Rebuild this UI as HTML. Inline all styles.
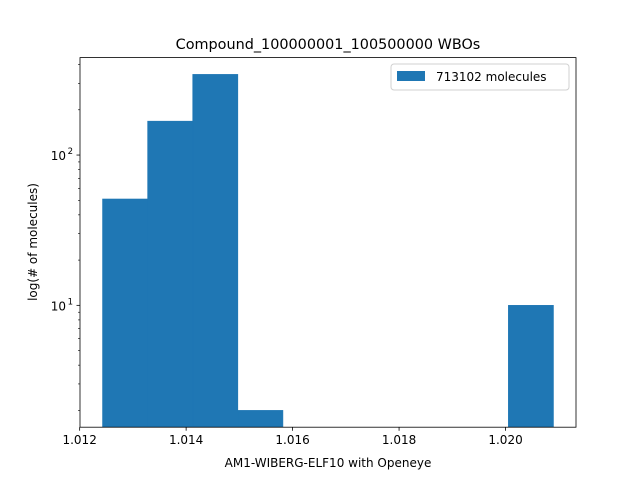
<!DOCTYPE html>
<html><head><meta charset="utf-8"><style>
body{margin:0;background:#fff;font-family:"Liberation Sans","DejaVu Sans",sans-serif}
svg text{font-family:"DejaVu Sans","Liberation Sans",sans-serif;fill:#000}
</style></head><body>
<svg id="c" width="640" height="480" xmlns="http://www.w3.org/2000/svg">
<rect width="640" height="480" fill="#fff"/>
<text x="328" y="49" font-size="14.4" text-anchor="middle">Compound_100000001_100500000 WBOs</text>
<g id="bars"></g>
<g id="axes"></g>
<text x="328" y="467" font-size="12" text-anchor="middle">AM1-WIBERG-ELF10 with Openeye</text>
<text transform="translate(37,242) rotate(-90)" font-size="12" text-anchor="middle">log(# of molecules)</text>
<g>
<rect x="391" y="64" width="178" height="26" rx="3" fill="#fff" stroke="#ccc" opacity="0.9"/>
<rect x="397" y="71" width="28" height="10" fill="#1f77b4"/>
<text x="436" y="81" font-size="12">713102 molecules</text>
</g>
</svg>
<script>
const binStart = 1.01243;
const binEnd = 1.02090;
const counts = [51, 168, 344, 2, 0, 0, 0, 0, 0, 10];
const xTicks = [1.012, 1.014, 1.016, 1.018, 1.020];
const xTickLabels = ["1.012", "1.014", "1.016", "1.018", "1.020"];
const yTicks = [1, 2];
const yTickLabels = ["10", "10"];

const NS="http://www.w3.org/2000/svg";
const L=80,R=576,T=57.6,B=427.2;
const span=binEnd-binStart;
const xmin=binStart-0.05*span,xmax=binEnd+0.05*span;
const X=v=>L+(v-xmin)/(xmax-xmin)*(R-L);
const pos=counts.filter(c=>c>0);
const lmin=Math.log10(Math.min(...pos)),lmax=Math.log10(Math.max(...pos));
const ylo=lmin-0.05*(lmax-lmin),yhi=lmax+0.05*(lmax-lmin);
const Y=v=>B-(Math.log10(v)-ylo)/(yhi-ylo)*(B-T);
function mk(t,a,p){const e=document.createElementNS(NS,t);for(const k in a)e.setAttribute(k,a[k]);p.appendChild(e);return e;}
const bars=document.getElementById('bars'),axes=document.getElementById('axes');
const w=span/counts.length;
counts.forEach((c,i)=>{
  if(c<=0)return;
  const x0=X(binStart+i*w),x1=X(binStart+(i+1)*w),yt=Y(c);
  const r=mk('rect',{x:x0,y:yt,width:x1-x0,height:B-yt,fill:'#1f77b4',stroke:'#1f77b4','stroke-width':0.6},bars);
  
  
});
xTicks.forEach((t,i)=>{
  const x=X(t);
  mk('line',{x1:x,x2:x,y1:B,y2:B+3.5,stroke:'#000','stroke-width':0.8},axes);
  const tx=mk('text',{x:x,y:B+17,'font-size':12,'text-anchor':'middle'},axes);
  tx.textContent=xTickLabels[i];
  
  
});
for(let d=Math.floor(ylo);d<=Math.ceil(yhi);d++){
  for(let m=1;m<10;m++){
    const v=m*Math.pow(10,d),lv=Math.log10(v);
    if(lv<ylo||lv>yhi||m===1)continue;
    const y=Y(v);
    mk('line',{x1:L,x2:L-2,y1:y,y2:y,stroke:'#000','stroke-width':0.6},axes);
  }
}
yTicks.forEach((e,i)=>{
  const y=Y(Math.pow(10,e));
  mk('line',{x1:L,x2:L-3.5,y1:y,y2:y,stroke:'#000','stroke-width':0.8},axes);
  const tx=mk('text',{x:L-14,y:y+5,'font-size':12,'text-anchor':'end'},axes);
  tx.textContent=yTickLabels[i];
  
  
  const sp=mk('text',{x:L-7,y:y-1,'font-size':8.5,'text-anchor':'end'},axes);
  sp.textContent=String(e);
  
  
});
const fr=mk('rect',{x:L,y:T,width:R-L,height:B-T,fill:'none',stroke:'#000','stroke-width':0.8},axes);


</script>
</body></html>
